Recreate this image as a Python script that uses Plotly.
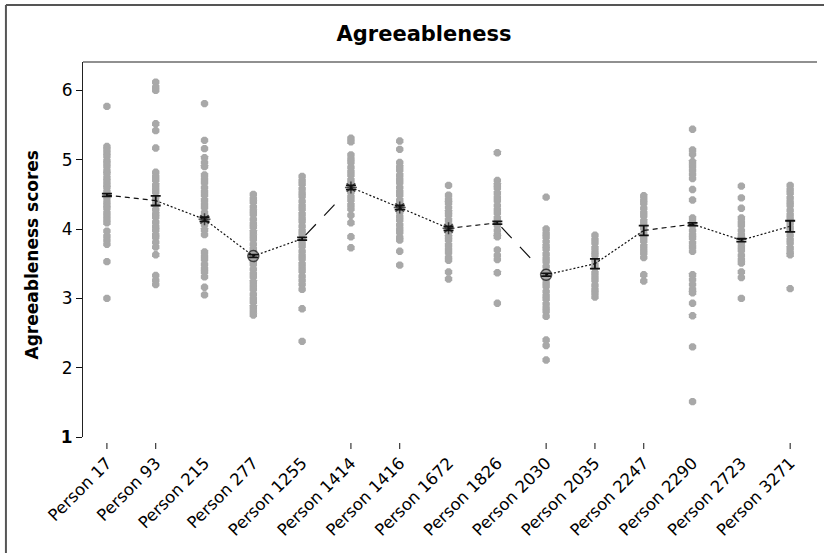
import plotly.graph_objects as go

# Participants shown along the x axis
persons = ["Person 17", "Person 93", "Person 215", "Person 277", "Person 1255",
           "Person 1414", "Person 1416", "Person 1672", "Person 1826", "Person 2030",
           "Person 2035", "Person 2247", "Person 2290", "Person 2723", "Person 3271"]

# Individual agreeableness scores per participant
p17 = [5.77, 5.19, 5.15, 5.10, 5.05, 4.99, 4.95, 4.90, 4.84, 4.80, 4.74, 4.69, 4.64, 4.60,
       4.54, 4.49, 4.45, 4.39, 4.34, 4.30, 4.24, 4.19, 4.14, 4.09, 3.97, 3.90, 3.84, 3.78, 3.53, 3.00]
p93 = [6.12, 6.05, 6.00, 5.52, 5.42, 5.17, 4.82, 4.76, 4.71, 4.64, 4.58, 4.53, 4.46, 4.40,
       4.35, 4.28, 4.22, 4.17, 4.10, 4.04, 3.99, 3.92, 3.88, 3.81, 3.74, 3.63, 3.33, 3.26, 3.20]
p215 = [5.81, 5.28, 5.16, 5.03, 4.96, 4.90, 4.78, 4.72, 4.67, 4.60, 4.54, 4.49, 4.42, 4.36,
        4.31, 4.24, 4.18, 4.13, 4.06, 3.99, 3.92, 3.67, 3.61, 3.56, 3.49, 3.43, 3.38, 3.31, 3.16, 3.05]
p277 = [4.50, 4.44, 4.39, 4.32, 4.26, 4.21, 4.14, 4.08, 4.03, 3.96, 3.90, 3.85, 3.78, 3.72,
        3.67, 3.60, 3.54, 3.49, 3.42, 3.36, 3.31, 3.24, 3.18, 3.13, 3.06, 3.00, 2.95, 2.88, 2.82, 2.76]
p1255 = [4.76, 4.70, 4.65, 4.58, 4.52, 4.47, 4.40, 4.34, 4.29, 4.22, 4.16, 4.11, 4.04, 3.98,
         3.93, 3.86, 3.80, 3.75, 3.68, 3.62, 3.57, 3.50, 3.44, 3.39, 3.32, 3.26, 3.20, 3.13, 2.85, 2.38]
p1414 = [5.31, 5.26, 5.07, 5.01, 4.96, 4.89, 4.83, 4.78, 4.71, 4.65, 4.60, 4.53, 4.47, 4.42,
         4.35, 4.29, 4.20, 4.09, 3.89, 3.73]
p1416 = [5.27, 5.15, 4.96, 4.90, 4.85, 4.78, 4.72, 4.67, 4.60, 4.54, 4.49, 4.42, 4.36, 4.31,
         4.24, 4.18, 4.13, 4.06, 4.00, 3.95, 3.88, 3.84, 3.68, 3.48]
p1672 = [4.63, 4.49, 4.43, 4.38, 4.31, 4.25, 4.20, 4.13, 4.07, 4.02, 3.95, 3.89, 3.84, 3.77,
         3.71, 3.66, 3.59, 3.55, 3.38, 3.28]
p1826 = [5.10, 4.70, 4.64, 4.59, 4.52, 4.46, 4.41, 4.34, 4.28, 4.23, 4.16, 4.10, 4.05, 3.98,
         3.92, 3.89, 3.70, 3.62, 3.56, 3.37, 2.93]
p2030 = [4.46, 4.00, 3.94, 3.89, 3.82, 3.76, 3.71, 3.64, 3.58, 3.53, 3.46, 3.40, 3.35, 3.28,
         3.22, 3.17, 3.10, 3.04, 2.99, 2.92, 2.86, 2.81, 2.74, 2.40, 2.32, 2.11]
p2035 = [3.91, 3.85, 3.80, 3.73, 3.67, 3.62, 3.55, 3.49, 3.44, 3.37, 3.31, 3.26, 3.19, 3.13,
         3.08, 3.02]
p2247 = [4.48, 4.42, 4.37, 4.30, 4.24, 4.19, 4.12, 4.06, 4.01, 3.94, 3.88, 3.83, 3.76, 3.70,
         3.65, 3.59, 3.34, 3.25]
p2290 = [5.44, 5.14, 5.08, 4.97, 4.91, 4.85, 4.79, 4.73, 4.57, 4.42, 4.16, 4.10, 4.05, 3.98,
         3.92, 3.87, 3.80, 3.74, 3.68, 3.34, 3.27, 3.20, 3.13, 3.08, 2.93, 2.75, 2.30, 1.51]
p2723 = [4.62, 4.45, 4.30, 4.16, 4.10, 4.05, 3.98, 3.92, 3.87, 3.80, 3.74, 3.69, 3.62, 3.56,
         3.51, 3.38, 3.30, 3.00]
p3271 = [4.63, 4.57, 4.52, 4.45, 4.39, 4.34, 4.27, 4.21, 4.16, 4.09, 4.03, 3.98, 3.91, 3.85,
         3.80, 3.73, 3.67, 3.63, 3.14]

scores = [p17, p93, p215, p277, p1255, p1414, p1416, p1672, p1826, p2030,
          p2035, p2247, p2290, p2723, p3271]

# Mean score and its standard error per participant
means = [4.49, 4.41, 4.14, 3.61, 3.86, 4.60, 4.31, 4.01, 4.09, 3.34,
         3.50, 3.98, 4.07, 3.84, 4.04]
errors = [0.02, 0.07, 0.03, 0.02, 0.02, 0.03, 0.03, 0.03, 0.02, 0.02,
          0.07, 0.07, 0.02, 0.02, 0.08]

# y-axis ticks
y_ticks = [1, 2, 3, 4, 5, 6]
y_ticktext = ["<b>1</b>", "2", "3", "4", "5", "6"]

# --- styling ---
FONT = "DejaVu Sans"
POINT_COLOR = "#a8a8a8"
mean_symbol = ["line-ew", "line-ew", "asterisk-open", "circle-open", "line-ew",
               "asterisk-open", "asterisk-open", "asterisk-open", "line-ew", "circle-open",
               "line-ew", "line-ew", "line-ew", "line-ew", "line-ew"]
mean_size = [0, 0, 10, 11, 0, 10, 10, 10, 0, 11, 0, 0, 0, 0, 0]
segment_dash = ["5px,4px", "2px,2px", "2px,2px", "2px,2px", "0px,5px,15px,12px,15px,60px",
                "2px,2px", "2px,2px", "5px,4px", "0px,6px,15px,12px,15px,60px", "2px,2px",
                "2px,2px", "5px,4px", "2px,2px", "2px,2px"]
tick_marked = [0, 1, 5, 6, 9, 10, 11, 14]

fig = go.Figure()

# raw scores as grey dots in one column per person
for i, vals in enumerate(scores):
    fig.add_trace(go.Scatter(
        x=[i] * len(vals), y=vals, mode="markers",
        marker=dict(symbol="octagon", size=8, color=POINT_COLOR, line=dict(width=0)),
        showlegend=False, hoverinfo="y"))

# mean profile, one segment at a time
for i in range(len(means) - 1):
    fig.add_trace(go.Scatter(
        x=[i, i + 1], y=[means[i], means[i + 1]], mode="lines",
        line=dict(color="#111", width=1.2, dash=segment_dash[i]),
        showlegend=False, hoverinfo="skip"))

# means with standard error bars
fig.add_trace(go.Scatter(
    x=list(range(len(means))), y=means, mode="markers",
    marker=dict(symbol=mean_symbol, size=mean_size, color="#111",
                line=dict(color="#111", width=1.5)),
    error_y=dict(type="data", array=errors, visible=True, color="#111",
                 thickness=1.8, width=5),
    showlegend=False, hoverinfo="y"))

shapes = []
# outer frame
shapes.append(dict(type="line", xref="paper", yref="paper", x0=-0.105, x1=1.02,
                   y0=1.152, y1=1.152, line=dict(color="#555", width=2)))
shapes.append(dict(type="line", xref="paper", yref="paper", x0=-0.105, x1=-0.105,
                   y0=1.152, y1=-0.32, line=dict(color="#555", width=2)))
# top border of plot area
shapes.append(dict(type="line", xref="paper", yref="paper", x0=0, x1=1,
                   y0=1, y1=1, line=dict(color="#222", width=1.2)))
# x tick marks
for i in tick_marked:
    shapes.append(dict(type="line", xref="x", yref="paper", x0=i, x1=i,
                       y0=-0.016, y1=-0.032, line=dict(color="#111", width=1)))

fig.update_layout(
    width=824, height=553,
    margin=dict(l=83, r=7, t=62, b=116),
    paper_bgcolor="white", plot_bgcolor="white",
    font=dict(family=FONT, color="#000"),
    title=dict(text="<b>Agreeableness</b>", x=424 / 824, xanchor="center",
               y=1 - 34 / 553, yanchor="middle",
               font=dict(family=FONT, size=21, color="#000")),
    shapes=shapes,
    annotations=[dict(text="<b>Agreeableness scores</b>", textangle=-90,
                      xref="paper", yref="paper", x=-0.069, y=0.485,
                      xanchor="center", yanchor="middle", showarrow=False,
                      font=dict(family=FONT, size=17, color="#000"))],
)

fig.update_xaxes(
    range=[-0.49, 14.55], tickmode="array", tickvals=list(range(len(persons))),
    ticktext=persons, tickangle=-45, tickfont=dict(family=FONT, size=16.5),
    ticks="outside", ticklen=9, tickcolor="rgba(0,0,0,0)",
    showgrid=False, zeroline=False, showline=False)

fig.update_yaxes(
    range=[1, 6.41], tickmode="array", tickvals=y_ticks, ticktext=y_ticktext,
    tickfont=dict(family=FONT, size=17), ticks="outside", ticklen=6,
    tickcolor="#111", showgrid=False, zeroline=False,
    showline=True, linecolor="#222", linewidth=1.2)

fig.write_html("out.html")
